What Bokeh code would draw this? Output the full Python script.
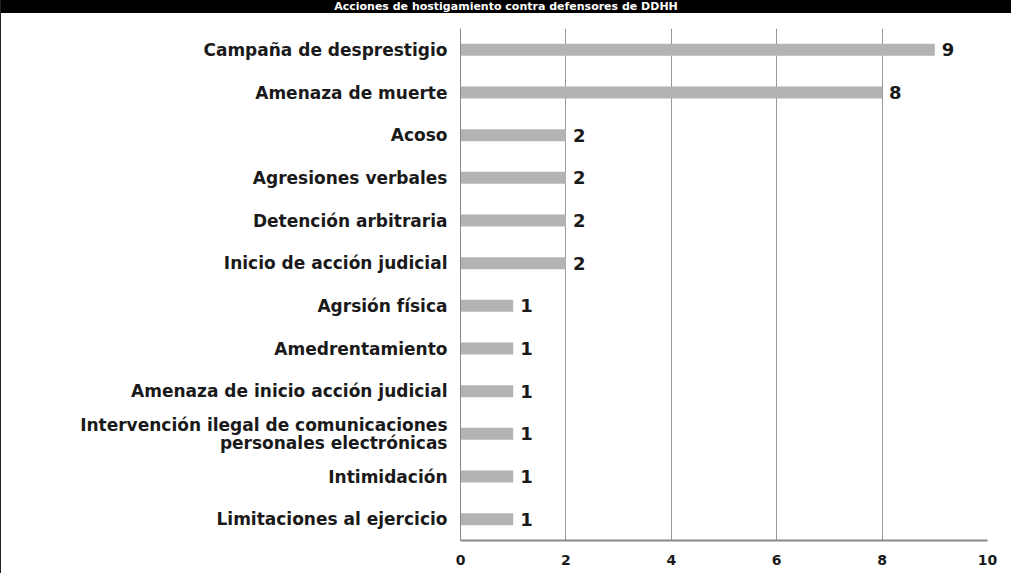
from bokeh.plotting import figure
from bokeh.models import FactorRange, Div, ColumnDataSource
from bokeh.layouts import column
from bokeh.core.properties import value
from bokeh.embed import file_html
from bokeh.resources import INLINE

title = "Acciones de hostigamiento contra defensores de DDHH"
categories = [
    "Campaña de desprestigio",
    "Amenaza de muerte",
    "Acoso",
    "Agresiones verbales",
    "Detención arbitraria",
    "Inicio de acción judicial",
    "Agrsión física",
    "Amedrentamiento",
    "Amenaza de inicio acción judicial",
    "Intervención ilegal de comunicaciones\npersonales electrónicas",
    "Intimidación",
    "Limitaciones al ejercicio",
]
counts = [9, 8, 2, 2, 2, 2, 1, 1, 1, 1, 1, 1]
x_ticks = [0, 2, 4, 6, 8, 10]

FONT = "DejaVu Sans"

src = ColumnDataSource(dict(cat=categories, val=counts, lbl=[str(v) for v in counts]))

p = figure(
    width=1010, height=560,
    y_range=FactorRange(*reversed(categories)),
    x_range=(0, 10),
    output_backend="svg", toolbar_location=None,
    min_border_left=459, min_border_right=24, min_border_top=15, min_border_bottom=33,
)
p.hbar(y="cat", right="val", left=0, height=0.28, source=src,
       fill_color="#b3b3b3", line_color=None)
p.text(x="val", y="cat", text="lbl", source=src, x_offset=7,
       text_baseline="middle", text_align="left",
       text_font=value(FONT), text_font_style="bold", text_font_size="18px",
       text_color="#1a1a1a")

p.outline_line_color = None
p.background_fill_color = "white"
p.border_fill_color = "white"
p.ygrid.grid_line_color = None
p.xgrid.grid_line_color = "#999999"
p.xgrid.grid_line_width = 1
p.xaxis.ticker = x_ticks
p.xaxis.axis_line_color = "#888888"
p.xaxis.axis_line_width = 2
p.xaxis.major_tick_line_color = None
p.xaxis.minor_tick_line_color = None
p.xaxis.major_label_text_font = FONT
p.xaxis.major_label_text_font_style = "bold"
p.xaxis.major_label_text_font_size = "14px"
p.xaxis.major_label_text_color = "#1a1a1a"
p.xaxis.major_label_standoff = 8
p.yaxis.axis_line_color = "#888888"
p.yaxis.axis_line_width = 1
p.yaxis.major_tick_line_color = None
p.yaxis.minor_tick_line_color = None
p.yaxis.major_label_text_font = FONT
p.yaxis.major_label_text_font_style = "bold"
p.yaxis.major_label_text_font_size = "17px"
p.yaxis.major_label_text_color = "#1a1a1a"
p.yaxis.major_label_standoff = 7
p.yaxis.major_label_text_line_height = 0.88

head = Div(
    text=f'<div style="background:#000;color:#fff;font-family:\'DejaVu Sans\';font-weight:bold;'
         f'font-size:11px;line-height:13px;height:13px;overflow:hidden;text-align:center;'
         f'width:1010px;">{title}</div>',
    width=1010, height=13, margin=0,
)

layout = column(head, p, spacing=0, styles={"border-left": "1px solid #222"})

open("out.html", "w").write(file_html(layout, INLINE))
